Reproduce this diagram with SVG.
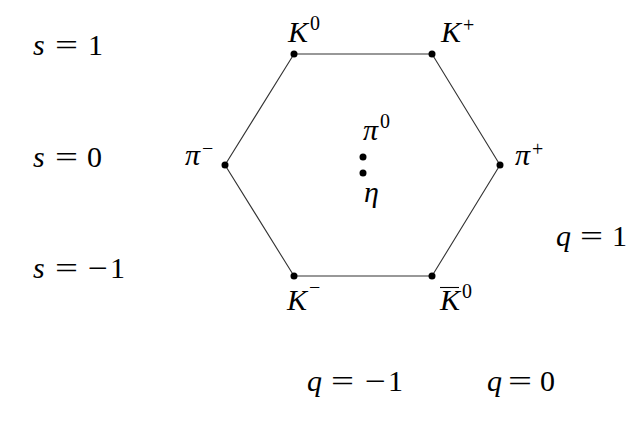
<svg xmlns="http://www.w3.org/2000/svg" width="644" height="439" viewBox="0 0 644 439">
<style>
text{font-family:'Liberation Serif','DejaVu Serif','Noto Serif','Times New Roman',Times,serif;font-size:30px;fill:#000}
.i{font-style:italic}
.sup{font-size:20px;font-style:normal}
.edge{stroke:#333;stroke-width:1.1;fill:none}
.dot{fill:#000}
</style>
<rect width="644" height="439" fill="#fff"/>
<g id="connectors">
<polygon class="edge" points="294,54 432,54 500,165 432,276 294,276 225,165"/>
</g>
<g id="K0"><circle class="dot" cx="294" cy="54" r="3.5"/><text x="288" y="42"><tspan class="i">K</tspan><tspan class="sup" dx="2" dy="-12">0</tspan></text></g>
<g id="Kplus"><circle class="dot" cx="432" cy="54" r="3.5"/><text x="441" y="42"><tspan class="i">K</tspan><tspan class="sup" dx="2" dy="-10">+</tspan></text></g>
<g id="piminus"><circle class="dot" cx="225" cy="165" r="3.5"/><text x="185" y="165"><tspan class="i">π</tspan><tspan class="sup" dx="2" dy="-10">−</tspan></text></g>
<g id="piplus"><circle class="dot" cx="500" cy="165" r="3.5"/><text x="515" y="165"><tspan class="i">π</tspan><tspan class="sup" dx="2" dy="-9">+</tspan></text></g>
<g id="pi0"><circle class="dot" cx="363" cy="157" r="3.5"/><text x="363" y="140"><tspan class="i">π</tspan><tspan class="sup" dx="2" dy="-12">0</tspan></text></g>
<g id="eta"><circle class="dot" cx="363" cy="173" r="3.5"/><text class="i" x="364" y="202">η</text></g>
<g id="Kminus"><circle class="dot" cx="294" cy="276" r="3.5"/><text x="287" y="310"><tspan class="i">K</tspan><tspan class="sup" dx="2" dy="-16">−</tspan></text></g>
<g id="K0bar"><circle class="dot" cx="432" cy="276" r="3.5"/><text x="440" y="310"><tspan class="i">K</tspan><tspan class="sup" dx="2" dy="-12">0</tspan></text><line x1="440" y1="287.5" x2="459" y2="287.5" stroke="#000" stroke-width="1.1"/></g>
<g id="labels">
<text x="33" y="55"><tspan class="i">s</tspan><tspan x="55" textLength="23" lengthAdjust="spacingAndGlyphs">=</tspan><tspan x="88">1</tspan></text>
<text x="33" y="167"><tspan class="i">s</tspan><tspan x="55" textLength="23" lengthAdjust="spacingAndGlyphs">=</tspan><tspan x="87">0</tspan></text>
<text x="33" y="278"><tspan class="i">s</tspan><tspan x="55" textLength="23" lengthAdjust="spacingAndGlyphs">=</tspan><tspan x="88" textLength="20" lengthAdjust="spacingAndGlyphs">−</tspan><tspan x="110">1</tspan></text>
<text x="556" y="246"><tspan class="i">q</tspan><tspan x="580" textLength="23" lengthAdjust="spacingAndGlyphs">=</tspan><tspan x="612">1</tspan></text>
<text x="307" y="391"><tspan class="i">q</tspan><tspan x="331" textLength="23" lengthAdjust="spacingAndGlyphs">=</tspan><tspan x="365" textLength="21" lengthAdjust="spacingAndGlyphs">−</tspan><tspan x="388">1</tspan></text>
<text x="487" y="391"><tspan class="i">q</tspan><tspan x="508" textLength="24" lengthAdjust="spacingAndGlyphs">=</tspan><tspan x="540">0</tspan></text>
</g>
</svg>
